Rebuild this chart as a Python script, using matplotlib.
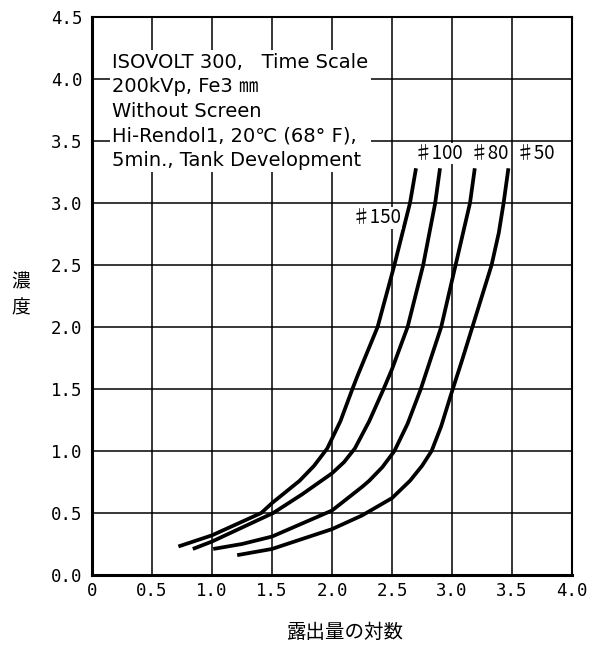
import matplotlib
matplotlib.use('Agg')
import matplotlib.pyplot as plt

plt.rcParams['font.family'] = ['DejaVu Sans', 'Noto Sans CJK JP']

# characteristic curves (log exposure, density)
x150 = [0.72, 1.0, 1.41, 1.5, 1.73, 1.85, 1.96, 2.07, 2.17, 2.21, 2.38, 2.52, 2.65, 2.70]
y150 = [0.23, 0.32, 0.50, 0.58, 0.76, 0.88, 1.02, 1.24, 1.5, 1.6, 2.0, 2.5, 3.0, 3.28]
x100 = [0.84, 1.0, 1.51, 1.75, 2.0, 2.10, 2.19, 2.31, 2.43, 2.50, 2.63, 2.76, 2.86, 2.90]
y100 = [0.21, 0.27, 0.50, 0.65, 0.82, 0.91, 1.02, 1.24, 1.5, 1.66, 2.0, 2.5, 3.0, 3.28]
x80 = [1.01, 1.25, 1.5, 2.0, 2.25, 2.31, 2.42, 2.52, 2.63, 2.74, 2.91, 3.03, 3.15, 3.19]
y80 = [0.21, 0.25, 0.31, 0.52, 0.71, 0.76, 0.87, 1.0, 1.22, 1.5, 2.0, 2.5, 3.0, 3.28]
x50 = [1.21, 1.5, 2.0, 2.25, 2.5, 2.65, 2.75, 2.83, 2.91, 2.99, 3.08, 3.17, 3.33, 3.39, 3.43, 3.47]
y50 = [0.16, 0.21, 0.37, 0.48, 0.62, 0.76, 0.88, 1.0, 1.2, 1.45, 1.72, 2.0, 2.5, 2.76, 3.0, 3.28]

curve_labels = ['♯150', '♯100', '♯80', '♯50']
label_pos = [(2.37, 2.88), (2.89, 3.40), (3.31, 3.40), (3.69, 3.40)]

xticks = [0, 0.5, 1.0, 1.5, 2.0, 2.5, 3.0, 3.5, 4.0]
xticklabels = ['0', '0.5', '1.0', '1.5', '2.0', '2.5', '3.0', '3.5', '4.0']
yticks = [0, 0.5, 1.0, 1.5, 2.0, 2.5, 3.0, 3.5, 4.0, 4.5]
yticklabels = ['0.0', '0.5', '1.0', '1.5', '2.0', '2.5', '3.0', '3.5', '4.0', '4.5']

info = ('ISOVOLT 300,   Time Scale\n'
        '200kVp, Fe3 ㎜\n'
        'Without Screen\n'
        'Hi-Rendol1, 20℃ (68° F),\n'
        '5min., Tank Development')

fig = plt.figure(figsize=(6.03, 6.48), dpi=100)
ax = fig.add_axes([92/603, 73/648, 480/603, 558/648])

ax.set_xlim(0, 4)
ax.set_ylim(0, 4.5)
ax.set_xticks(xticks)
ax.set_yticks(yticks)
ax.set_xticklabels(xticklabels, family='DejaVu Sans Mono', fontsize=12.5)
ax.set_yticklabels(yticklabels, family='DejaVu Sans Mono', fontsize=12.5)
ax.tick_params(length=0)
ax.tick_params(axis='x', pad=5)
ax.tick_params(axis='y', pad=7)
ax.grid(True, color='black', lw=1.1)
ax.set_axisbelow(True)
for side in ['left', 'bottom']:
    ax.spines[side].set_linewidth(2.2)
for side in ['top', 'right']:
    ax.spines[side].set_linewidth(1.5)

for xs, ys in [(x150, y150), (x100, y100), (x80, y80), (x50, y50)]:
    ax.plot(xs, ys, color='black', lw=2.7, solid_joinstyle='round', solid_capstyle='butt')

for lab, (lx, ly) in zip(curve_labels, label_pos):
    ax.text(lx, ly, lab, ha='center', va='center', fontsize=13.5,
            family=['Noto Sans CJK JP', 'DejaVu Sans'],
            bbox=dict(facecolor='white', edgecolor='none', pad=0.3))

ax.text(0.17, 4.21, info, ha='left', va='top', fontsize=14, linespacing=1.36,
        bbox=dict(facecolor='white', edgecolor='none', pad=2))

fig.text(21/603, 1 - 295/648, '濃\n度', ha='center', va='center', fontsize=13.5,
         family='Noto Sans CJK JP', linespacing=1.3)
fig.text(345/603, 1 - 632/648, '露出量の対数', ha='center', va='center', fontsize=14,
         family='Noto Sans CJK JP')

fig.savefig('out.png', dpi=100)
